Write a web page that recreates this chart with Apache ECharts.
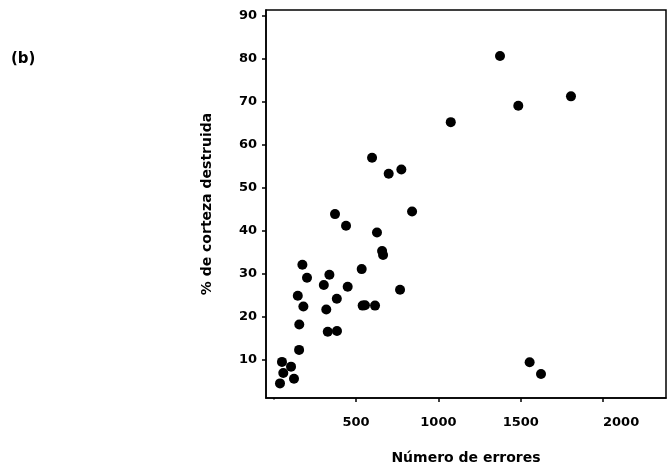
<!DOCTYPE html>
<html>
<head>
<meta charset="utf-8">
<script src="https://cdn.jsdelivr.net/npm/echarts@6/dist/echarts.min.js"></script>
<style>html,body{margin:0;padding:0;background:#fff}#c{width:671px;height:475px}</style>
</head>
<body>
<div id="c"></div>
<script>
// Número de errores (x) and % de corteza destruida (y)
const errores = [372, 439, 840, 627, 658, 664, 174, 202, 338, 304, 534, 449, 767, 146, 180, 319, 383, 540, 554, 615, 155, 328, 384, 154, 50, 105, 58, 123, 38, 597, 698, 775, 1075, 1374, 1485, 1805, 1554, 1623];
const corteza = [43.9, 41.2, 44.5, 39.6, 35.3, 34.4, 32.1, 29.1, 29.8, 27.4, 31.1, 27.0, 26.3, 24.9, 22.4, 21.7, 24.2, 22.6, 22.7, 22.6, 18.2, 16.5, 16.7, 12.3, 9.5, 8.4, 6.9, 5.6, 4.5, 57.0, 53.3, 54.3, 65.3, 80.7, 69.1, 71.3, 9.4, 6.7];
const xTicks = [500, 1000, 1500, 2000];
const yTicks = [10, 20, 30, 40, 50, 60, 70, 80, 90];

const points = errores.map((x, i) => [x, corteza[i]]);
const chart = echarts.init(document.getElementById('c'), null, {renderer: 'canvas'});
const tickFont = {fontFamily: 'DejaVu Sans', fontWeight: 'bold', fontSize: 13, color: '#000'};
chart.setOption({
  animation: false,
  backgroundColor: '#fff',
  grid: {left: 266, top: 10, right: 5, bottom: 77, show: true, borderColor: '#000', borderWidth: 1.5, backgroundColor: 'transparent'},
  graphic: [{type: 'text', left: 11, top: 52, style: {text: '(b)', font: 'bold 15px "DejaVu Sans"', fill: '#000'}}],
  xAxis: {
    type: 'value', min: -47, max: 2382, minInterval: 500, maxInterval: 500,
    name: 'Número de errores', nameLocation: 'middle', nameGap: 53,
    nameTextStyle: {fontFamily: 'DejaVu Sans', fontWeight: 'bold', fontSize: 14, color: '#000'},
    axisLine: {show: true, onZero: false, lineStyle: {color: '#000', width: 1.5}},
    axisTick: {show: true, inside: false, length: 4, lineStyle: {color: '#000', width: 1.5}},
    axisLabel: Object.assign({
      margin: 18, showMinLabel: false, showMaxLabel: false,
      formatter: v => (xTicks.indexOf(v) < 0 ? '' : (v === 2000 ? '{s|' + v + '}' : String(v))),
      rich: {s: {padding: [0, 0, 0, 36], fontFamily: 'DejaVu Sans', fontWeight: 'bold', fontSize: 13, color: '#000'}}
    }, tickFont),
    splitLine: {show: false}
  },
  yAxis: {
    type: 'value', min: 1.1, max: 91.4, minInterval: 10, maxInterval: 10,
    name: '% de corteza destruida', nameLocation: 'middle', nameGap: 52,
    nameTextStyle: {fontFamily: 'DejaVu Sans', fontWeight: 'bold', fontSize: 14, color: '#000'},
    axisLine: {show: true, onZero: false, lineStyle: {color: '#000', width: 1.5}},
    axisTick: {show: true, inside: false, length: 4, lineStyle: {color: '#000', width: 1.5}},
    axisLabel: Object.assign({margin: 9, showMinLabel: false, showMaxLabel: false,
      formatter: v => (yTicks.indexOf(v) < 0 ? '' : String(v))}, tickFont),
    splitLine: {show: false}
  },
  series: [{
    type: 'scatter', data: points, symbol: 'circle', symbolSize: 10,
    itemStyle: {color: '#000', opacity: 1}
  }]
});
// hide the unlabeled tick at 0 (not present in the original)
const p0 = chart.convertToPixel({xAxisIndex: 0, yAxisIndex: 0}, [0, 1.1]);
chart.setOption({graphic: [
  {type: 'text', left: 11, top: 52, style: {text: '(b)', font: 'bold 15px "DejaVu Sans"', fill: '#000'}},
  {type: 'rect', shape: {x: p0[0] - 2, y: p0[1] + 1.5, width: 4, height: 5}, style: {fill: '#fff'}, z: 100}
]});
</script>
</body>
</html>
